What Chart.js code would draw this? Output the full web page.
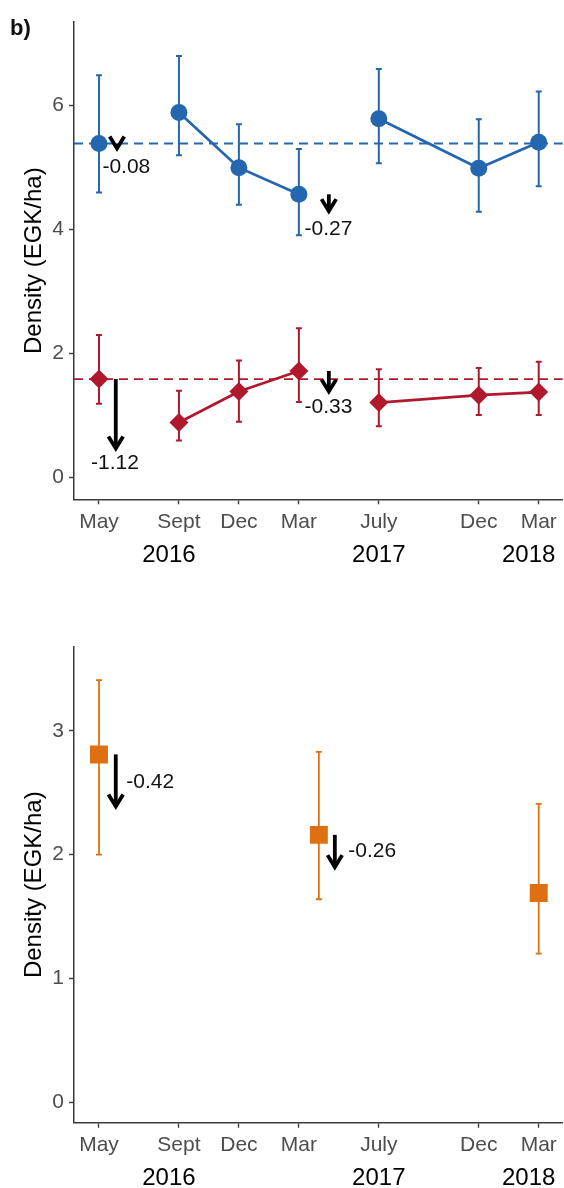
<!DOCTYPE html>
<html>
<head>
<meta charset="utf-8">
<script src="https://cdn.jsdelivr.net/npm/chart.js@4.4.1/dist/chart.umd.min.js"></script>
<style>
  html, body { margin: 0; padding: 0; background: #ffffff; }
  #wrap { position: relative; width: 564px; height: 1188px; overflow: hidden; }
  .panel { position: absolute; left: 0; width: 564px; }
</style>
</head>
<body>
<div id="wrap">
  <div class="panel" style="top:0;height:590px"><canvas id="densityTop"></canvas></div>
  <div class="panel" style="top:590px;height:598px"><canvas id="densityBottom"></canvas></div>
</div>
<script>
// Survey occasions, in months counted from May 2016
const months = [0, 4, 7, 10, 14, 19, 22];
const monthLabels = ['May', 'Sept', 'Dec', 'Mar', 'July', 'Dec', 'Mar'];
const yearLabels = ['2016', '2017', '2018'];
const yearCentres = [3.5, 14, 21.5];

// Blue series (circles): estimate with lower / upper interval
const blueMean = [5.39, 5.89, 5.00, 4.57, 5.79, 4.99, 5.41];
const blueLow  = [4.60, 5.20, 4.40, 3.91, 5.07, 4.29, 4.70];
const blueHigh = [6.49, 6.80, 5.70, 5.30, 6.59, 5.78, 6.23];
const blueBaseline = 5.39;

// Red series (diamonds)
const redMean = [1.59, 0.89, 1.39, 1.72, 1.21, 1.33, 1.38];
const redLow  = [1.19, 0.60, 0.90, 1.22, 0.83, 1.01, 1.01];
const redHigh = [2.30, 1.40, 1.89, 2.41, 1.75, 1.77, 1.87];
const redBaseline = 1.59;

// Occasions joined by a line within each survey run
const connectedRuns = [[1, 2, 3], [4, 5, 6]];

// Orange series (squares), lower panel
const orangeMonths = [0, 11, 22];
const orangeMean = [2.81, 2.16, 1.69];
const orangeLow  = [2.00, 1.64, 1.20];
const orangeHigh = [3.41, 2.83, 2.41];

// Change arrows: month they stand at, value they start from, and the change
const topArrowMonths  = [0.9, 0.84, 11.5, 11.5];
const topArrowStarts  = [5.39, 1.59, 4.57, 1.72];
const topArrowChanges = [-0.08, -1.12, -0.27, -0.33];
const bottomArrowMonths  = [0.84, 11.8];
const bottomArrowStarts  = [2.81, 2.16];
const bottomArrowChanges = [-0.42, -0.26];

// Tick values
const topYTicks = [0, 2, 4, 6];
const bottomYTicks = [0, 1, 2, 3];

// ---- layout / style (not data) ----
const FONT = "'Liberation Sans', Arial, Helvetica, sans-serif";
const BLUE = '#2467ae';
const RED = '#b0182e';
const ORANGE = '#df7012';
const AXIS = '#3a3a3a';
const TICKTXT = '#4d4d4d';

// label anchors for the change values: [month, value, alignment]
const topLabelPlaces = [[0.17, 4.91, 'left'], [0.80, 0.135, 'center'], [11.48, 3.91, 'center'], [11.48, 1.04, 'center']];
const bottomLabelPlaces = [[1.37, 2.535, 'left'], [12.47, 1.98, 'left']];

function points(xs, ys) { return xs.map((x, i) => ({ x: x, y: ys[i] })); }

function runDatasets(means, colour) {
  return connectedRuns.map(run => ({
    data: run.map(i => ({ x: months[i], y: means[i] })),
    showLine: true, borderColor: colour, borderWidth: 2.8, pointRadius: 0,
    fill: false, tension: 0
  }));
}

function drawArrow(ctx, x, y0, y1) {
  const L = 14, a = 0.55;
  ctx.save();
  ctx.strokeStyle = '#000000';
  ctx.lineWidth = 3.8;
  ctx.lineCap = 'butt';
  ctx.lineJoin = 'miter';
  ctx.beginPath(); ctx.moveTo(x, y0); ctx.lineTo(x, y1); ctx.stroke();
  ctx.beginPath();
  ctx.moveTo(x - L * Math.sin(a), y1 - L * Math.cos(a));
  ctx.lineTo(x, y1);
  ctx.lineTo(x + L * Math.sin(a), y1 - L * Math.cos(a));
  ctx.stroke();
  ctx.restore();
}

function errorBars(ctx, sx, sy, xs, lo, hi, colour, width) {
  ctx.save();
  ctx.strokeStyle = colour;
  ctx.lineWidth = width;
  xs.forEach((m, i) => {
    const x = sx.getPixelForValue(m);
    const y0 = sy.getPixelForValue(lo[i]);
    const y1 = sy.getPixelForValue(hi[i]);
    ctx.beginPath();
    ctx.moveTo(x, y0); ctx.lineTo(x, y1);
    ctx.moveTo(x - 3, y0); ctx.lineTo(x + 3, y0);
    ctx.moveTo(x - 3, y1); ctx.lineTo(x + 3, y1);
    ctx.stroke();
  });
  ctx.restore();
}

function baseline(ctx, chart, value, colour) {
  const sy = chart.scales.y, area = chart.chartArea;
  const y = sy.getPixelForValue(value);
  ctx.save();
  ctx.strokeStyle = colour;
  ctx.lineWidth = 1.8;
  ctx.setLineDash([9, 6]);
  ctx.beginPath(); ctx.moveTo(area.left, y); ctx.lineTo(area.right, y); ctx.stroke();
  ctx.restore();
}

function changeMarks(ctx, chart, ms, starts, changes, places) {
  const sx = chart.scales.x, sy = chart.scales.y;
  ms.forEach((m, i) => {
    const x = sx.getPixelForValue(m);
    drawArrow(ctx, x, sy.getPixelForValue(starts[i]), sy.getPixelForValue(starts[i] + changes[i]));
    const p = places[i];
    ctx.save();
    ctx.fillStyle = '#111111';
    ctx.font = '21px ' + FONT;
    ctx.textAlign = p[2];
    ctx.textBaseline = 'alphabetic';
    ctx.fillText(changes[i].toFixed(2), sx.getPixelForValue(p[0]), sy.getPixelForValue(p[1]));
    ctx.restore();
  });
}

function years(ctx, chart) {
  const sx = chart.scales.x;
  ctx.save();
  ctx.fillStyle = '#000000';
  ctx.font = '24px ' + FONT;
  ctx.textAlign = 'center';
  ctx.textBaseline = 'alphabetic';
  yearLabels.forEach((t, i) => ctx.fillText(t, sx.getPixelForValue(yearCentres[i]), chart.chartArea.bottom + 62.4));
  ctx.restore();
}

function makeOptions(yMin, yMax, yTicks, padTop, xHeight) {
  return {
    responsive: true,
    maintainAspectRatio: false,
    animation: false,
    layout: { autoPadding: false, padding: { top: padTop, right: 1.3, left: 0, bottom: 0 } },
    plugins: { legend: { display: false }, tooltip: { enabled: false } },
    scales: {
      x: {
        type: 'linear', min: -1.25, max: 23.2,
        afterBuildTicks: s => { s.ticks = months.map(v => ({ value: v })); },
        afterFit: s => { s.height = xHeight; s.paddingLeft = 0; s.paddingRight = 0; },
        ticks: {
          autoSkip: false, maxRotation: 0, padding: 5,
          color: TICKTXT, font: { family: FONT, size: 21 },
          callback: (v, i) => monthLabels[i]
        },
        grid: { drawOnChartArea: false, drawTicks: true, tickLength: 5, tickColor: AXIS, tickWidth: 1.4 },
        border: { display: true, color: AXIS, width: 1.5 }
      },
      y: {
        min: yMin, max: yMax,
        afterBuildTicks: s => { s.ticks = yTicks.map(v => ({ value: v })); },
        afterFit: s => { s.width = 74; s.paddingTop = 0; s.paddingBottom = 0; },
        ticks: { padding: 5, color: TICKTXT, font: { family: FONT, size: 21 } },
        grid: { drawOnChartArea: false, drawTicks: true, tickLength: 5, tickColor: AXIS, tickWidth: 1.4 },
        border: { display: true, color: AXIS, width: 1.5 },
        title: {
          display: true, text: 'Density (EGK/ha)', color: '#000000',
          font: { family: FONT, size: 24 }, padding: { top: 20, bottom: 0 }
        }
      }
    }
  };
}

// Upper panel: blue and red series
new Chart(document.getElementById('densityTop'), {
  type: 'line',
  data: {
    datasets: [
      { data: points(months, blueMean), showLine: false, pointStyle: 'circle', pointRadius: 8.5,
        pointBackgroundColor: BLUE, pointBorderWidth: 0 },
      { data: points(months, redMean), showLine: false, pointStyle: 'rectRot', pointRadius: 9.5,
        pointBackgroundColor: RED, pointBorderWidth: 0 },
      ...runDatasets(blueMean, BLUE),
      ...runDatasets(redMean, RED)
    ]
  },
  options: makeOptions(-0.35, 7.35, topYTicks, 22, 90.7),
  plugins: [{
    id: 'upperExtras',
    beforeDatasetsDraw(chart) {
      const ctx = chart.ctx, sx = chart.scales.x, sy = chart.scales.y;
      baseline(ctx, chart, blueBaseline, BLUE);
      baseline(ctx, chart, redBaseline, RED);
      errorBars(ctx, sx, sy, months, blueLow, blueHigh, BLUE, 2);
      errorBars(ctx, sx, sy, months, redLow, redHigh, RED, 2);
    },
    afterDatasetsDraw(chart) {
      const ctx = chart.ctx;
      changeMarks(ctx, chart, topArrowMonths, topArrowStarts, topArrowChanges, topLabelPlaces);
      years(ctx, chart);
      ctx.save();
      ctx.fillStyle = '#111111';
      ctx.font = 'bold 22px ' + FONT;
      ctx.textAlign = 'left';
      ctx.textBaseline = 'alphabetic';
      ctx.fillText('b)', 10, 35);
      ctx.restore();
    }
  }]
});

// Lower panel: orange series
new Chart(document.getElementById('densityBottom'), {
  type: 'line',
  data: {
    datasets: [
      { data: points(orangeMonths, orangeMean), showLine: false, pointStyle: 'rect', pointRadius: 12.7,
        pointBackgroundColor: ORANGE, pointBorderWidth: 0 }
    ]
  },
  options: makeOptions(-0.165, 3.68, bottomYTicks, 56.7, 65.3),
  plugins: [{
    id: 'lowerExtras',
    beforeDatasetsDraw(chart) {
      errorBars(chart.ctx, chart.scales.x, chart.scales.y, orangeMonths, orangeLow, orangeHigh, ORANGE, 1.8);
    },
    afterDatasetsDraw(chart) {
      changeMarks(chart.ctx, chart, bottomArrowMonths, bottomArrowStarts, bottomArrowChanges, bottomLabelPlaces);
      years(chart.ctx, chart);
    }
  }]
});
</script>
</body>
</html>
